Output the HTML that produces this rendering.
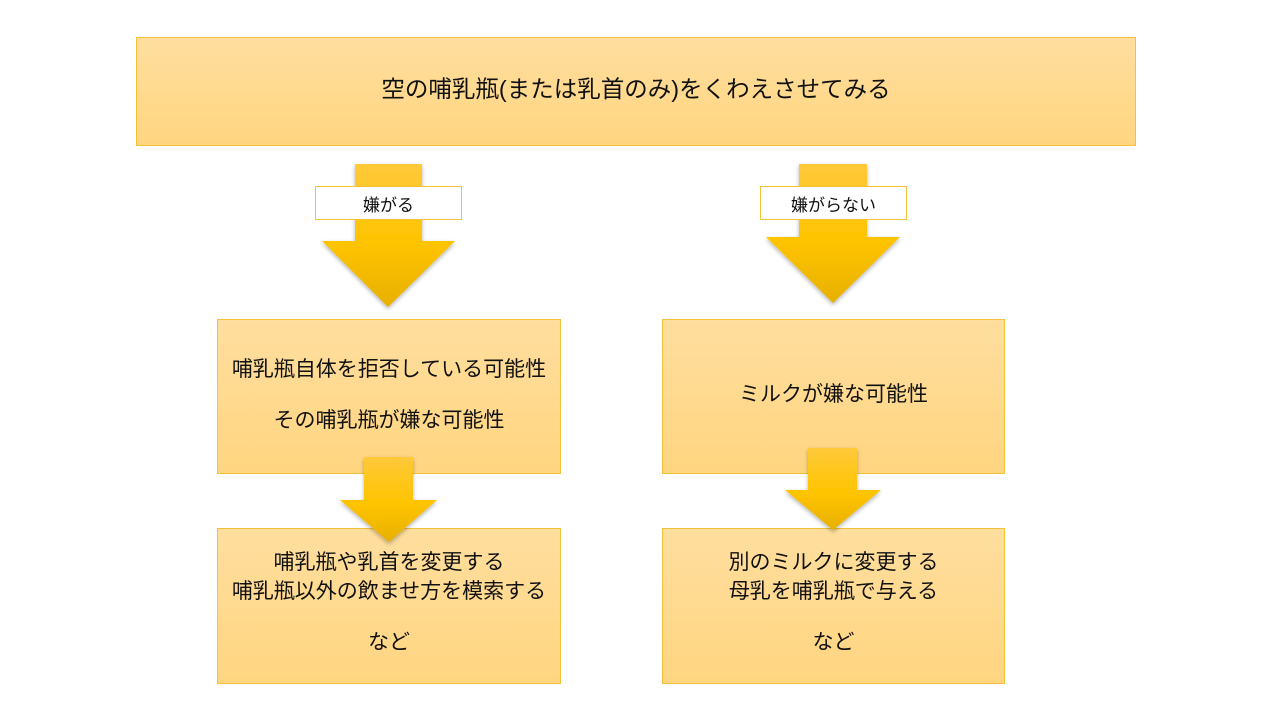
<!DOCTYPE html>
<html><head><meta charset="utf-8"><style>
body{margin:0;width:1280px;height:720px;background:#fff;position:relative;overflow:hidden;font-family:"Liberation Sans","Noto Sans CJK JP",sans-serif;color:#111}
.b{position:absolute;box-sizing:border-box;border:1px solid #F3C13A;background:linear-gradient(#FFDE9E,#FFD580);display:flex;flex-direction:column;align-items:center;justify-content:center;text-align:center;font-size:21px;line-height:29px}
.l{position:absolute;box-sizing:border-box;border:1px solid #F3C13A;background:#fff;font-size:17px;display:flex;align-items:center;justify-content:center;z-index:3}
svg{position:absolute;left:0;top:0;z-index:2}
</style></head><body>
<div class="b" style="left:136px;top:37px;width:1000px;height:109px;font-size:23.5px;padding-bottom:4px">空の哺乳瓶(または乳首のみ)をくわえさせてみる</div>
<div class="b" style="left:217px;top:319px;width:344px;height:155px;padding-bottom:4px"><div>哺乳瓶自体を拒否している可能性</div><div style="height:22px"></div><div>その哺乳瓶が嫌な可能性</div></div>
<div class="b" style="left:662px;top:319px;width:343px;height:155px;padding-bottom:4px">ミルクが嫌な可能性</div>
<div class="b" style="left:217px;top:528px;width:344px;height:156px;justify-content:flex-start;padding-top:19px"><div>哺乳瓶や乳首を変更する</div><div>哺乳瓶以外の飲ませ方を模索する</div><div style="height:22px"></div><div>など</div></div>
<div class="b" style="left:662px;top:528px;width:343px;height:156px;justify-content:flex-start;padding-top:19px"><div>別のミルクに変更する</div><div>母乳を哺乳瓶で与える</div><div style="height:22px"></div><div>など</div></div>
<svg width="1280" height="720">
<defs><linearGradient id="g" x1="0" y1="0" x2="0" y2="1"><stop offset="0" stop-color="#FFC93A"/><stop offset="0.55" stop-color="#FFC400"/><stop offset="1" stop-color="#E8B000"/></linearGradient>
<filter id="s"><feDropShadow dx="0" dy="2" stdDeviation="2" flood-opacity="0.3"/></filter></defs>
<polygon filter="url(#s)" fill="url(#g)" points="355,164 422,164 422,241 455,241 388,307 322,241 355,241"/>
<polygon filter="url(#s)" fill="url(#g)" points="799,164 867,164 867,237 900,237 833,303 766,237 799,237"/>
<polygon filter="url(#s)" fill="url(#g)" points="364,457 413,457 413,500 437,500 389,542 340,500 364,500"/>
<polygon filter="url(#s)" fill="url(#g)" points="808,448 857,448 857,490 881,490 833,530 785,490 808,490"/>
</svg>
<div class="l" style="left:315px;top:186px;width:147px;height:34px">嫌がる</div>
<div class="l" style="left:760px;top:186px;width:147px;height:34px">嫌がらない</div>
</body></html>
